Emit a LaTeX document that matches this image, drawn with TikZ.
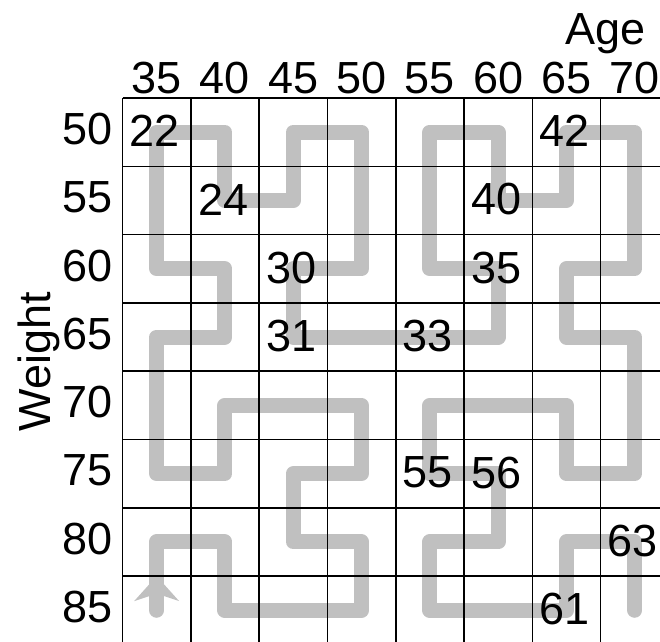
\documentclass[tikz,border=0pt]{standalone}
\usepackage{fontspec}
\setmainfont{Liberation Sans}
\usetikzlibrary{calc}
\definecolor{curvegray}{RGB}{192,192,192}
\begin{document}
\begin{tikzpicture}[x=1pt,y=-1pt,
  lab/.style={font=\fontsize{45}{54}\selectfont, inner sep=0pt},
  gridline/.style={line width=1.6pt, black},
  hilbert/.style={line width=15pt, curvegray, line cap=round, line join=round},
  arrowhead/.style={fill=curvegray, draw=none}]
\useasboundingbox (0,0) rectangle (660,641);
\clip (0,0) rectangle (660,641);
\foreach \i in {0,...,7}{\foreach \j in {0,...,7}{
  \coordinate (c-\i-\j) at ({156.65+68.3*\i},{132.15+68.3*\j});}}
% Hilbert curve
\draw[hilbert] (c-0-7) -- (c-0-6) -- (c-1-6) -- (c-1-7) -- (c-2-7) -- (c-3-7) -- (c-3-6) -- (c-2-6)
  -- (c-2-5) -- (c-3-5) -- (c-3-4) -- (c-2-4) -- (c-1-4) -- (c-1-5) -- (c-0-5) -- (c-0-4)
  -- (c-0-3) -- (c-1-3) -- (c-1-2) -- (c-0-2) -- (c-0-1) -- (c-0-0) -- (c-1-0) -- (c-1-1)
  -- (c-2-1) -- (c-2-0) -- (c-3-0) -- (c-3-1) -- (c-3-2) -- (c-2-2) -- (c-2-3) -- (c-3-3)
  -- (c-4-3) -- (c-5-3) -- (c-5-2) -- (c-4-2) -- (c-4-1) -- (c-4-0) -- (c-5-0) -- (c-5-1)
  -- (c-6-1) -- (c-6-0) -- (c-7-0) -- (c-7-1) -- (c-7-2) -- (c-6-2) -- (c-6-3) -- (c-7-3)
  -- (c-7-4) -- (c-7-5) -- (c-6-5) -- (c-6-4) -- (c-5-4) -- (c-4-4) -- (c-4-5) -- (c-5-5)
  -- (c-5-6) -- (c-4-6) -- (c-4-7) -- (c-5-7) -- (c-6-7) -- (c-6-6) -- (c-7-6) -- (c-7-7);
% arrow head on the first segment
\coordinate (tip) at ($(c-0-7)!0.5!(c-0-6)$);
\fill[arrowhead] (tip) -- ++(22.5,25) -- ++(-15,-5) -- ++(-15,0) -- ++(-15,5) -- cycle;
% grid
\foreach \k in {0,...,8}{
  \draw[gridline] ({122.5+68.3*\k},98) -- ({122.5+68.3*\k},660);
  \draw[gridline] (122.5,{98+68.3*\k}) -- (680,{98+68.3*\k});
}
% labels
\foreach \v [count=\i from 0] in {35,40,45,50,55,60,65,70}
  \node[lab, anchor=base] (col\i) at ({156.65+68.3*\i},93) {\v};
\foreach \v [count=\j from 0] in {50,55,60,65,70,75,80,85}
  \node[lab, anchor=east] (row\j) at (113,{129+68.3*\j}) {\v};
\foreach \i/\j/\v in {0/0/22,6/0/42,1/1/24,5/1/40,2/2/30,5/2/35,2/3/31,4/3/33,4/5/55,5/5/56,7/6/63,6/7/61}
  \node[lab, anchor=west] (n\v) at ({122.5+68.3*\i+7},{131+68.3*\j}) {\v};
\node[lab, anchor=base east] (age) at (646,44) {Age};
\node[lab, rotate=90, anchor=base] (weight) at (50,362) {Weight};
\end{tikzpicture}
\end{document}
